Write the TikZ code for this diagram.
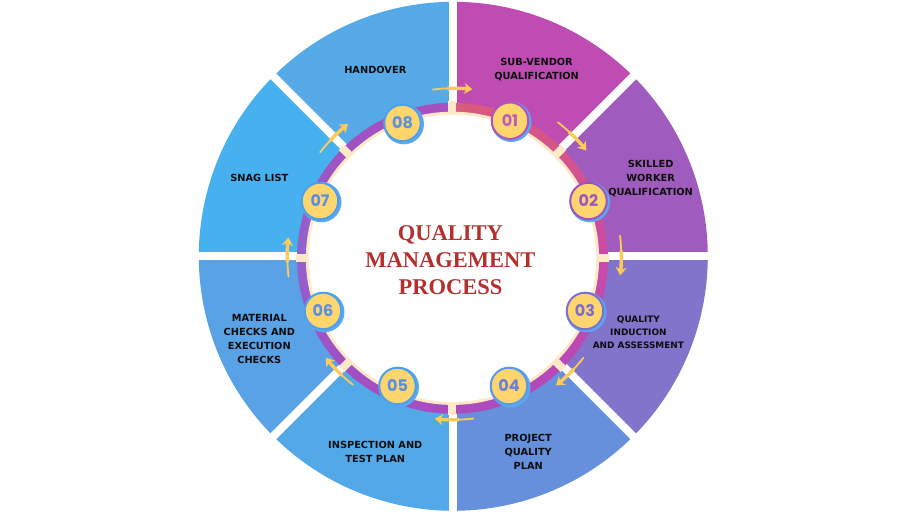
\documentclass[tikz,border=0pt]{standalone}
\usepackage{fontspec}
\setmainfont{DejaVu Sans}
\newfontfamily\titlefont{Liberation Serif}
\newfontfamily\numfont{Poppins}
\usetikzlibrary{arrows.meta}
\definecolor{s1}{HTML}{BE4CB3}
\definecolor{s2}{HTML}{A05BBF}
\definecolor{s3}{HTML}{8273CB}
\definecolor{s4}{HTML}{6690DC}
\definecolor{s5}{HTML}{53A8E8}
\definecolor{s6}{HTML}{5AA2E6}
\definecolor{s7}{HTML}{46B1EE}
\definecolor{s8}{HTML}{56AAE8}
\definecolor{rc0}{HTML}{DA5A7C}
\definecolor{rc1}{HTML}{D4548C}
\definecolor{rc2}{HTML}{C84AAA}
\definecolor{rc3}{HTML}{B848B8}
\definecolor{rc4}{HTML}{A84CC0}
\definecolor{rc5}{HTML}{A050C4}
\definecolor{rc6}{HTML}{9262CC}
\definecolor{rc7}{HTML}{A052C2}
\definecolor{rc8}{HTML}{A850C0}
\definecolor{cream}{HTML}{FDE8C8}
\definecolor{numyellow}{HTML}{FFD66E}
\definecolor{arrowc}{HTML}{FFCB58}
\definecolor{titlered}{HTML}{B3302E}
\definecolor{shadowblue}{HTML}{5AA8F0}
\definecolor{b1}{HTML}{B052C0}
\definecolor{b2}{HTML}{A052C0}
\definecolor{b3}{HTML}{7F70D0}
\definecolor{b4}{HTML}{5A9AE8}
\definecolor{b5}{HTML}{4EA0EA}
\definecolor{t1}{HTML}{B85CBE}
\definecolor{t2}{HTML}{A055C0}
\definecolor{t3}{HTML}{7E6ECC}
\definecolor{t4}{HTML}{6C80D8}
\definecolor{t5}{HTML}{5A90E2}
\tikzset{
  numc/.style={circle, fill=numyellow, line width=2pt, minimum size=36.5pt, inner sep=0pt,
    font=\numfont\bfseries\fontsize{16}{16}\selectfont},
  lbl/.style={align=center, inner sep=0pt, text=black!95,
    font=\bfseries\fontsize{9.8}{14}\selectfont},
  lblsmall/.style={lbl, font=\bfseries\fontsize{8.9}{12.8}\selectfont},
  ttl/.style={align=center, inner sep=0pt, text=titlered,
    font=\titlefont\bfseries\fontsize{22.5}{27.3}\selectfont},
  cyctail/.style={arrowc, line width=1.8pt, line cap=round},
  cyc/.style={arrowc, line width=3.4pt, -{Stealth[length=8pt,width=11pt,inset=2.5pt]}}
}
\begin{document}
\begin{tikzpicture}[x=1pt,y=1pt]
\useasboundingbox (-453.3,-267.7) rectangle (462.7,256.3);
\coordinate (c) at (0,0);
% sectors
\foreach \c [count=\k] in {s1,s2,s3,s4,s5,s6,s7,s8} {
  \pgfmathsetmacro\sa{135-45*\k}
  \pgfmathsetmacro\ea{90-45*\k}
  \fill[\c] (c) -- (\sa:254.5) arc[start angle=\sa, end angle=\ea, radius=254.5] -- cycle;
}
% gaps
\foreach \t in {0,45,90,135}
  \draw[white, line width=8pt] (\t:262) -- (\t+180:262);
% ring
\begin{scope}[shift={(-0.8,-2)}]
\foreach \i in {0,...,71} {
  \pgfmathtruncatemacro\k{int(\i/9)}
  \pgfmathtruncatemacro\kn{\k+1}
  \pgfmathtruncatemacro\p{100-100*mod(\i,9)/9}
  \pgfmathsetmacro\sa{90-5*\i+0.4}
  \pgfmathsetmacro\ea{90-5*\i-5.4}
  \draw[color=rc\k!\p!rc\kn, line width=9.5pt] (\sa:150.7) arc[start angle=\sa, end angle=\ea, radius=150.7];
}
\foreach \t in {0,45,...,315}
  \draw[cream, line width=8pt] (\t:144.5) -- (\t:156.8);
\fill[cream] (0,0) circle (146.6);
\fill[white] (0,0) circle (143.6);
\end{scope}
% cycle arrows
\foreach \a/\r in {90/168,45/170,0/168,-45/165,-90/163.5,-135/163,180/166,135/169} {
  \draw[cyctail] (\a+7:\r) arc[start angle=\a+7, end angle=\a, radius=\r];
  \draw[cyc] (\a+2:\r) arc[start angle=\a+2, end angle=\a-6.5, radius=\r];
}
% number circles
\foreach \n/\x/\y/\bc/\tc in {01/56.7/135.6/b1/t1, 02/135.2/55.3/b2/t2, 03/131.7/-54.7/b3/t3,
    04/55.7/-129.7/b4/t4, 05/-55.8/-129.7/b5/t5, 06/-130.3/-54.7/b5/t5,
    07/-133.3/55.3/b5/t5, 08/-50.8/133.3/b5/t5} {
  \fill[shadowblue] (\x+1.3,\y-1.1) circle (20.2);
  \node[numc, draw=\bc, text=\tc] (n\n) at (\x,\y) {\n};
}
% labels
\node[lbl] (l1) at (83.3,186.6) {SUB-VENDOR\\QUALIFICATION};
\node[lbl] (l2) at (197.3,77.5) {SKILLED\\WORKER\\QUALIFICATION};
\node[lblsmall] (l3) at (185.1,-75.7) {QUALITY\\INDUCTION\\AND ASSESSMENT};
\node[lbl] (l4) at (74.9,-195.4) {PROJECT\\QUALITY\\PLAN};
\node[lbl] (l5) at (-78,-195.7) {INSPECTION AND\\TEST PLAN};
\node[lbl] (l6) at (-194,-82.6) {MATERIAL\\CHECKS AND\\EXECUTION\\CHECKS};
\node[lbl] (l7) at (-194,78) {SNAG LIST};
\node[lbl] (l8) at (-78,186.3) {HANDOVER};
% title
\node[ttl] (title) at (-2.9,-3.7) {QUALITY\\MANAGEMENT\\PROCESS};
\end{tikzpicture}
\end{document}
